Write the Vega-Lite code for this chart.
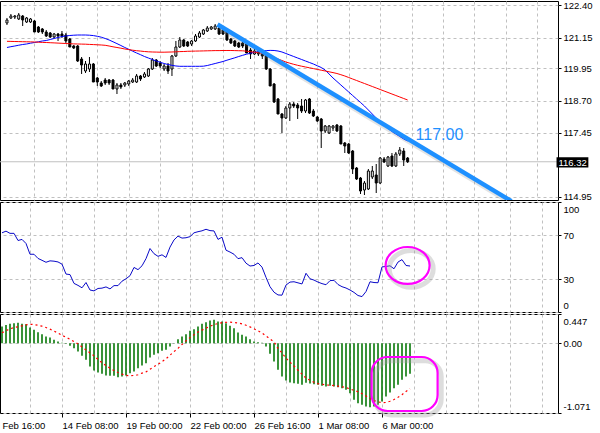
{
"$schema":"https://vega.github.io/schema/vega-lite/v6.json",
"padding":{"left":-1,"top":-1,"right":0,"bottom":0},
"background":"white",
"spacing":2,
"bounds":"flush",
"resolve":{"scale":{"x":"independent","y":"independent"}},
"config":{
 "view":{"stroke":"black","strokeWidth":1},
 "axis":{"gridColor":"#C0C0C0","gridDash":[3,3],"gridWidth":1,"labelFont":"Liberation Sans","labelFontSize":9.5,"labelColor":"black","tickColor":"black","domain":false,"tickCount":100,"labelOverlap":false},
 "text":{"font":"Liberation Sans"}
},
"data":{"values":[
{"i":0,"o":121.719,"h":121.914,"l":121.641,"c":121.836,"m1":120.766,"m2":121.007,"rsi":72,"hist":0.254,"sig":0.16},
{"i":1,"o":121.914,"h":122.069,"l":121.875,"c":121.991,"m1":120.797,"m2":121.003,"rsi":73.5,"hist":0.28,"sig":0.19},
{"i":2,"o":121.952,"h":122.03,"l":121.875,"c":121.991,"m1":120.824,"m2":120.999,"rsi":71.5,"hist":0.296,"sig":0.22},
{"i":3,"o":121.875,"h":122.108,"l":121.836,"c":122.03,"m1":120.855,"m2":120.995,"rsi":71.5,"hist":0.307,"sig":0.24},
{"i":4,"o":121.991,"h":122.03,"l":121.602,"c":121.836,"m1":120.882,"m2":120.991,"rsi":65,"hist":0.311,"sig":0.25},
{"i":5,"o":121.758,"h":121.952,"l":121.719,"c":121.914,"m1":120.902,"m2":120.988,"rsi":66,"hist":0.296,"sig":0.265},
{"i":6,"o":121.758,"h":121.914,"l":121.719,"c":121.875,"m1":120.933,"m2":120.984,"rsi":62.3,"hist":0.291,"sig":0.28},
{"i":7,"o":121.797,"h":121.836,"l":121.369,"c":121.369,"m1":120.96,"m2":120.98,"rsi":52.5,"hist":0.239,"sig":0.29},
{"i":8,"o":121.563,"h":121.602,"l":121.33,"c":121.369,"m1":120.988,"m2":120.972,"rsi":52.5,"hist":0.204,"sig":0.285},
{"i":9,"o":121.486,"h":121.524,"l":121.291,"c":121.369,"m1":121.019,"m2":120.964,"rsi":48.7,"hist":0.169,"sig":0.275},
{"i":10,"o":121.369,"h":121.447,"l":121.174,"c":121.213,"m1":121.038,"m2":120.96,"rsi":47,"hist":0.138,"sig":0.26},
{"i":11,"o":121.33,"h":121.369,"l":121.135,"c":121.174,"m1":121.077,"m2":120.952,"rsi":45.2,"hist":0.101,"sig":0.24},
{"i":12,"o":121.174,"h":121.33,"l":121.135,"c":121.291,"m1":121.116,"m2":120.945,"rsi":46.5,"hist":0.086,"sig":0.215},
{"i":13,"o":121.291,"h":121.33,"l":121.019,"c":121.213,"m1":121.155,"m2":120.937,"rsi":46.2,"hist":0.051,"sig":0.185},
{"i":14,"o":121.291,"h":121.408,"l":121.135,"c":121.213,"m1":121.194,"m2":120.929,"rsi":45.5,"hist":0.025,"sig":0.155},
{"i":15,"o":121.252,"h":121.33,"l":120.941,"c":121.019,"m1":121.213,"m2":120.921,"rsi":43.5,"hist":0.005,"sig":0.12},
{"i":16,"o":121.096,"h":121.135,"l":120.785,"c":120.785,"m1":121.233,"m2":120.914,"rsi":34.5,"hist":-0.011,"sig":0.09},
{"i":17,"o":120.824,"h":120.863,"l":120.707,"c":120.746,"m1":121.244,"m2":120.906,"rsi":34,"hist":-0.041,"sig":0.06},
{"i":18,"o":120.824,"h":120.863,"l":120.201,"c":120.24,"m1":121.252,"m2":120.902,"rsi":26,"hist":-0.077,"sig":0.025},
{"i":19,"o":120.318,"h":120.396,"l":119.735,"c":120.085,"m1":121.252,"m2":120.898,"rsi":24.2,"hist":-0.129,"sig":-0.01},
{"i":20,"o":119.851,"h":120.24,"l":119.773,"c":120.124,"m1":121.252,"m2":120.894,"rsi":22,"hist":-0.195,"sig":-0.06},
{"i":21,"o":119.929,"h":120.396,"l":119.812,"c":120.124,"m1":121.244,"m2":120.886,"rsi":26.8,"hist":-0.256,"sig":-0.105},
{"i":22,"o":120.124,"h":120.163,"l":119.423,"c":119.423,"m1":121.229,"m2":120.879,"rsi":20,"hist":-0.359,"sig":-0.15},
{"i":23,"o":119.579,"h":119.618,"l":119.268,"c":119.423,"m1":121.202,"m2":120.871,"rsi":19.2,"hist":-0.42,"sig":-0.195},
{"i":24,"o":119.384,"h":119.462,"l":119.229,"c":119.268,"m1":121.167,"m2":120.863,"rsi":21.4,"hist":-0.451,"sig":-0.25},
{"i":25,"o":119.501,"h":119.579,"l":119.307,"c":119.384,"m1":121.116,"m2":120.851,"rsi":21.7,"hist":-0.471,"sig":-0.3},
{"i":26,"o":119.501,"h":119.54,"l":119.307,"c":119.384,"m1":121.058,"m2":120.824,"rsi":22.8,"hist":-0.497,"sig":-0.345},
{"i":27,"o":119.501,"h":119.54,"l":119.151,"c":119.151,"m1":120.988,"m2":120.793,"rsi":21,"hist":-0.501,"sig":-0.385},
{"i":28,"o":119.151,"h":119.384,"l":118.956,"c":119.307,"m1":120.917,"m2":120.766,"rsi":24,"hist":-0.501,"sig":-0.42},
{"i":29,"o":119.307,"h":119.384,"l":119.151,"c":119.229,"m1":120.843,"m2":120.739,"rsi":24,"hist":-0.521,"sig":-0.45},
{"i":30,"o":119.307,"h":119.423,"l":119.229,"c":119.384,"m1":120.766,"m2":120.707,"rsi":28,"hist":-0.512,"sig":-0.475},
{"i":31,"o":119.345,"h":119.501,"l":119.268,"c":119.462,"m1":120.696,"m2":120.684,"rsi":30.2,"hist":-0.497,"sig":-0.495},
{"i":32,"o":119.423,"h":119.579,"l":119.384,"c":119.501,"m1":120.622,"m2":120.661,"rsi":33,"hist":-0.46,"sig":-0.5},
{"i":33,"o":119.423,"h":119.735,"l":119.384,"c":119.657,"m1":120.552,"m2":120.641,"rsi":40.5,"hist":-0.435,"sig":-0.495},
{"i":34,"o":119.657,"h":119.696,"l":119.462,"c":119.54,"m1":120.486,"m2":120.626,"rsi":38.5,"hist":-0.383,"sig":-0.485},
{"i":35,"o":119.618,"h":119.812,"l":119.579,"c":119.735,"m1":120.415,"m2":120.61,"rsi":42,"hist":-0.343,"sig":-0.46},
{"i":36,"o":119.657,"h":119.968,"l":119.618,"c":119.929,"m1":120.357,"m2":120.598,"rsi":48.5,"hist":-0.307,"sig":-0.44},
{"i":37,"o":119.929,"h":120.357,"l":119.89,"c":120.279,"m1":120.299,"m2":120.591,"rsi":57.7,"hist":-0.22,"sig":-0.4},
{"i":38,"o":120.279,"h":120.318,"l":120.007,"c":120.046,"m1":120.24,"m2":120.587,"rsi":53,"hist":-0.179,"sig":-0.36},
{"i":39,"o":120.163,"h":120.24,"l":119.968,"c":120.046,"m1":120.19,"m2":120.583,"rsi":50.6,"hist":-0.153,"sig":-0.325},
{"i":40,"o":119.929,"h":120.124,"l":119.851,"c":120.046,"m1":120.143,"m2":120.583,"rsi":52,"hist":-0.118,"sig":-0.285},
{"i":41,"o":120.046,"h":120.163,"l":119.735,"c":119.851,"m1":120.104,"m2":120.587,"rsi":49.6,"hist":-0.103,"sig":-0.24},
{"i":42,"o":119.929,"h":120.474,"l":119.657,"c":120.435,"m1":120.073,"m2":120.591,"rsi":59,"hist":-0.051,"sig":-0.185},
{"i":43,"o":120.435,"h":121.019,"l":120.396,"c":120.785,"m1":120.046,"m2":120.598,"rsi":65.5,"hist":-0.005,"sig":-0.13},
{"i":44,"o":120.785,"h":121.174,"l":120.746,"c":121.058,"m1":120.034,"m2":120.606,"rsi":69,"hist":0.061,"sig":-0.08},
{"i":45,"o":121.058,"h":121.096,"l":120.785,"c":120.824,"m1":120.034,"m2":120.61,"rsi":67.2,"hist":0.101,"sig":-0.02},
{"i":46,"o":120.98,"h":121.019,"l":120.785,"c":120.824,"m1":120.034,"m2":120.618,"rsi":67.5,"hist":0.138,"sig":0.035},
{"i":47,"o":120.902,"h":121.058,"l":120.824,"c":121.019,"m1":120.034,"m2":120.622,"rsi":68.5,"hist":0.189,"sig":0.085},
{"i":48,"o":121.019,"h":121.291,"l":120.98,"c":121.213,"m1":120.034,"m2":120.626,"rsi":72,"hist":0.215,"sig":0.13},
{"i":49,"o":121.174,"h":121.408,"l":121.135,"c":121.33,"m1":120.034,"m2":120.629,"rsi":73,"hist":0.254,"sig":0.17},
{"i":50,"o":121.291,"h":121.486,"l":121.252,"c":121.447,"m1":120.038,"m2":120.633,"rsi":73.8,"hist":0.296,"sig":0.2},
{"i":51,"o":121.408,"h":121.602,"l":121.369,"c":121.524,"m1":120.065,"m2":120.637,"rsi":75.2,"hist":0.322,"sig":0.23},
{"i":52,"o":121.486,"h":121.602,"l":121.447,"c":121.563,"m1":120.104,"m2":120.641,"rsi":74,"hist":0.347,"sig":0.26},
{"i":53,"o":121.486,"h":121.68,"l":121.447,"c":121.602,"m1":120.143,"m2":120.645,"rsi":73.7,"hist":0.357,"sig":0.285},
{"i":54,"o":121.524,"h":121.602,"l":121.252,"c":121.291,"m1":120.182,"m2":120.645,"rsi":66,"hist":0.331,"sig":0.3},
{"i":55,"o":121.447,"h":121.486,"l":121.252,"c":121.291,"m1":120.221,"m2":120.649,"rsi":68,"hist":0.331,"sig":0.315},
{"i":56,"o":121.408,"h":121.447,"l":121.019,"c":121.058,"m1":120.272,"m2":120.649,"rsi":56.2,"hist":0.307,"sig":0.32},
{"i":57,"o":121.096,"h":121.135,"l":120.902,"c":120.941,"m1":120.318,"m2":120.649,"rsi":54.5,"hist":0.265,"sig":0.322},
{"i":58,"o":121.019,"h":121.058,"l":120.785,"c":120.824,"m1":120.365,"m2":120.645,"rsi":52.5,"hist":0.23,"sig":0.318},
{"i":59,"o":120.941,"h":120.98,"l":120.746,"c":120.785,"m1":120.415,"m2":120.641,"rsi":48.5,"hist":0.163,"sig":0.31},
{"i":60,"o":120.941,"h":120.98,"l":120.746,"c":120.824,"m1":120.462,"m2":120.637,"rsi":49.4,"hist":0.127,"sig":0.296},
{"i":61,"o":120.902,"h":120.941,"l":120.552,"c":120.552,"m1":120.505,"m2":120.622,"rsi":44.4,"hist":0.101,"sig":0.275},
{"i":62,"o":120.668,"h":120.746,"l":120.318,"c":120.513,"m1":120.544,"m2":120.602,"rsi":41.8,"hist":0.061,"sig":0.25},
{"i":63,"o":120.513,"h":120.707,"l":120.474,"c":120.629,"m1":120.579,"m2":120.583,"rsi":42.3,"hist":0.025,"sig":0.22},
{"i":64,"o":120.591,"h":120.668,"l":120.435,"c":120.513,"m1":120.606,"m2":120.559,"rsi":44.6,"hist":0.015,"sig":0.19},
{"i":65,"o":120.513,"h":120.591,"l":120.318,"c":120.435,"m1":120.629,"m2":120.532,"rsi":40.8,"hist":0.005,"sig":0.155},
{"i":66,"o":120.513,"h":120.513,"l":119.89,"c":119.929,"m1":120.645,"m2":120.493,"rsi":31.5,"hist":-0.051,"sig":0.11},
{"i":67,"o":119.929,"h":119.968,"l":119.268,"c":119.268,"m1":120.653,"m2":120.435,"rsi":23,"hist":-0.164,"sig":0.065},
{"i":68,"o":119.345,"h":119.384,"l":118.606,"c":118.645,"m1":120.649,"m2":120.377,"rsi":18,"hist":-0.282,"sig":0.02},
{"i":69,"o":118.762,"h":118.801,"l":118.178,"c":118.178,"m1":120.629,"m2":120.318,"rsi":15.5,"hist":-0.409,"sig":-0.08},
{"i":70,"o":118.178,"h":118.217,"l":117.439,"c":118.023,"m1":120.591,"m2":120.26,"rsi":15.3,"hist":-0.512,"sig":-0.15},
{"i":71,"o":118.023,"h":118.489,"l":117.984,"c":118.412,"m1":120.532,"m2":120.201,"rsi":24.5,"hist":-0.573,"sig":-0.23},
{"i":72,"o":118.412,"h":118.645,"l":117.906,"c":118.567,"m1":120.474,"m2":120.155,"rsi":27.2,"hist":-0.604,"sig":-0.29},
{"i":73,"o":118.567,"h":118.645,"l":118.412,"c":118.489,"m1":120.415,"m2":120.112,"rsi":27.5,"hist":-0.613,"sig":-0.35},
{"i":74,"o":118.528,"h":118.606,"l":117.984,"c":118.412,"m1":120.357,"m2":120.073,"rsi":26.5,"hist":-0.624,"sig":-0.415},
{"i":75,"o":118.489,"h":118.762,"l":118.217,"c":118.295,"m1":120.299,"m2":120.038,"rsi":25.5,"hist":-0.636,"sig":-0.475},
{"i":76,"o":118.295,"h":118.762,"l":118.217,"c":118.723,"m1":120.24,"m2":120.007,"rsi":35.2,"hist":-0.609,"sig":-0.535},
{"i":77,"o":118.762,"h":118.801,"l":118.178,"c":118.217,"m1":120.182,"m2":119.976,"rsi":30.2,"hist":-0.62,"sig":-0.57},
{"i":78,"o":118.295,"h":118.373,"l":118.061,"c":118.1,"m1":120.124,"m2":119.945,"rsi":29,"hist":-0.63,"sig":-0.6},
{"i":79,"o":118.061,"h":118.1,"l":117.867,"c":117.906,"m1":120.054,"m2":119.913,"rsi":27.2,"hist":-0.639,"sig":-0.62},
{"i":80,"o":117.984,"h":118.023,"l":116.855,"c":117.517,"m1":119.988,"m2":119.882,"rsi":25.8,"hist":-0.655,"sig":-0.63},
{"i":81,"o":117.517,"h":117.75,"l":117.439,"c":117.711,"m1":119.89,"m2":119.851,"rsi":24.8,"hist":-0.665,"sig":-0.64},
{"i":82,"o":117.439,"h":117.75,"l":117.4,"c":117.711,"m1":119.735,"m2":119.82,"rsi":28.5,"hist":-0.655,"sig":-0.645},
{"i":83,"o":117.633,"h":117.75,"l":117.517,"c":117.711,"m1":119.579,"m2":119.789,"rsi":28.8,"hist":-0.665,"sig":-0.652},
{"i":84,"o":117.75,"h":117.789,"l":117.478,"c":117.517,"m1":119.443,"m2":119.754,"rsi":25,"hist":-0.675,"sig":-0.66},
{"i":85,"o":117.711,"h":117.75,"l":117.011,"c":117.011,"m1":119.307,"m2":119.707,"rsi":23,"hist":-0.69,"sig":-0.668},
{"i":86,"o":117.05,"h":117.089,"l":116.661,"c":116.933,"m1":119.17,"m2":119.657,"rsi":21.8,"hist":-0.716,"sig":-0.683},
{"i":87,"o":117.011,"h":117.05,"l":116.622,"c":116.661,"m1":119.034,"m2":119.598,"rsi":20,"hist":-0.767,"sig":-0.7},
{"i":88,"o":116.738,"h":116.777,"l":115.844,"c":116.038,"m1":118.898,"m2":119.54,"rsi":17.8,"hist":-0.869,"sig":-0.725},
{"i":89,"o":116.077,"h":116.116,"l":115.61,"c":115.649,"m1":118.762,"m2":119.482,"rsi":15,"hist":-0.92,"sig":-0.745},
{"i":90,"o":115.688,"h":115.727,"l":115.065,"c":115.182,"m1":118.626,"m2":119.423,"rsi":14,"hist":-0.946,"sig":-0.775},
{"i":91,"o":115.221,"h":115.571,"l":115.026,"c":115.493,"m1":118.489,"m2":119.365,"rsi":18.6,"hist":-0.972,"sig":-0.81},
{"i":92,"o":115.26,"h":116.038,"l":115.221,"c":115.96,"m1":118.334,"m2":119.307,"rsi":27.5,"hist":-0.981,"sig":-0.85},
{"i":93,"o":115.727,"h":116.155,"l":115.649,"c":115.96,"m1":118.178,"m2":119.248,"rsi":26.8,"hist":-0.972,"sig":-0.88},
{"i":94,"o":115.805,"h":116.233,"l":115.104,"c":115.493,"m1":118.023,"m2":119.19,"rsi":26.6,"hist":-0.946,"sig":-0.9},
{"i":95,"o":115.493,"h":116.505,"l":115.454,"c":116.466,"m1":117.867,"m2":119.131,"rsi":41,"hist":-0.895,"sig":-0.913},
{"i":96,"o":116.427,"h":116.505,"l":116.272,"c":116.31,"m1":117.731,"m2":119.073,"rsi":41.4,"hist":-0.818,"sig":-0.91},
{"i":97,"o":116.155,"h":116.544,"l":116.116,"c":116.505,"m1":117.614,"m2":119.015,"rsi":42,"hist":-0.757,"sig":-0.89},
{"i":98,"o":116.544,"h":116.661,"l":116.116,"c":116.155,"m1":117.497,"m2":118.956,"rsi":39.3,"hist":-0.69,"sig":-0.865},
{"i":99,"o":116.155,"h":116.7,"l":116.116,"c":116.622,"m1":117.4,"m2":118.898,"rsi":45.4,"hist":-0.639,"sig":-0.83},
{"i":100,"o":116.622,"h":116.894,"l":116.544,"c":116.777,"m1":117.303,"m2":118.84,"rsi":47.6,"hist":-0.563,"sig":-0.79},
{"i":101,"o":116.738,"h":116.855,"l":116.155,"c":116.388,"m1":117.205,"m2":118.781,"rsi":42.3,"hist":-0.512,"sig":-0.74},
{"i":102,"o":116.466,"h":116.505,"l":116.272,"c":116.32,"m1":117.128,"m2":118.723,"rsi":41.8,"hist":-0.471,"sig":-0.7}
]},
"vconcat":[
{
 "width":558,"height":199,
 "layer":[
  {"data":{"values":[{"bid":116.32}]},
   "mark":{"type":"rule","color":"#C0C0C0","strokeWidth":1},
   "encoding":{"y":{"field":"bid","type":"quantitative","title":null,
     "scale":{"domain":[114.832,122.575],"nice":false,"zero":false},
     "axis":{"orient":"right","values":[114.95,117.45,118.7,119.95,121.15,122.4],"format":".2f","grid":true,"tickSize":3,"labelPadding":2,"tickCount":100}}}},
  {"mark":{"type":"rule","color":"black","strokeWidth":1},
   "encoding":{
    "x":{"field":"i","type":"quantitative","title":null,"scale":{"domain":[-0.5,139],"nice":false,"zero":false},
      "axis":{"values":[7,15,23,31,39,47,55,63,71,79,87,95,103,111,119,127,135],"grid":true,"labels":false,"ticks":false,"tickCount":100}},
    "y":{"field":"l","type":"quantitative","title":null},"y2":{"field":"h"}}},
  {"mark":{"type":"bar","width":2,"stroke":"black","strokeWidth":1},
   "encoding":{
    "x":{"field":"i","type":"quantitative","title":null},
    "y":{"field":"o","type":"quantitative","title":null},"y2":{"field":"c"},
    "fill":{"condition":{"test":"datum.c >= datum.o","value":"white"},"value":"black"}}},
  {"mark":{"type":"line","color":"#0000FF","strokeWidth":1},
   "encoding":{"x":{"field":"i","type":"quantitative","title":null},"y":{"field":"m1","type":"quantitative","title":null}}},
  {"mark":{"type":"line","color":"#FF0000","strokeWidth":1},
   "encoding":{"x":{"field":"i","type":"quantitative","title":null},"y":{"field":"m2","type":"quantitative","title":null}}},
  {"data":{"values":[{}]},
   "mark":{"type":"rule","color":"#808080","strokeWidth":6,"opacity":0.22,"clip":true},
   "encoding":{"x":{"datum":54.2},"y":{"datum":121.55},"x2":{"datum":129.0},"y2":{"datum":114.68}}},
  {"data":{"values":[{"i1":53.6,"p1":121.66,"i2":128.4,"p2":114.79}]},
   "mark":{"type":"rule","color":"#1E90FF","strokeWidth":4.5,"clip":true},
   "encoding":{"x":{"field":"i1","type":"quantitative"},"y":{"field":"p1","type":"quantitative"},"x2":{"field":"i2"},"y2":{"field":"p2"}}},
  {"data":{"values":[{"i":110.1,"p":117.36,"label":"117.00"}]},
   "mark":{"type":"text","fontSize":16,"color":"#1E90FF","align":"center","baseline":"middle"},
   "encoding":{"x":{"field":"i","type":"quantitative"},"y":{"field":"p","type":"quantitative"},"text":{"field":"label"}}},
  {"data":{"values":[{"bid":116.32}]},
   "mark":{"type":"rect","color":"black"},
   "encoding":{"x":{"datum":139.9},"x2":{"datum":148},"y":{"datum":116.5},"y2":{"datum":116.1}}},
  {"data":{"values":[{"bid":116.32}]},
   "mark":{"type":"text","fontSize":9.5,"color":"white","align":"center","baseline":"middle","dy":1},
   "encoding":{"x":{"datum":144},"y":{"field":"bid","type":"quantitative"},"text":{"field":"bid","format":".2f"}}}
 ]
},
{
 "width":558,"height":110,
 "layer":[
  {"mark":{"type":"line","color":"#0A0AC8","strokeWidth":1},
   "encoding":{
    "x":{"field":"i","type":"quantitative","title":null,"scale":{"domain":[-0.5,139],"nice":false,"zero":false},
      "axis":{"values":[7,15,23,31,39,47,55,63,71,79,87,95,103,111,119,127,135],"grid":true,"labels":false,"ticks":false,"tickCount":100}},
    "y":{"field":"rsi","type":"quantitative","title":null,"scale":{"domain":[0,100],"nice":false},
      "axis":{"orient":"right","values":[0,30,70,100],"format":"d","grid":true,"tickSize":3,"labelPadding":2,"labelFlush":true,"labelFlushOffset":-2,"tickCount":100}}}},
  {"data":{"values":[{}]},
   "mark":{"type":"point","shape":"M -1 0 A 1 0.84 0 1 1 1 0 A 1 0.84 0 1 1 -1 0 Z","size":1936,"filled":false,"stroke":"#A0A0A0","strokeWidth":5,"opacity":0.35},
   "encoding":{"x":{"datum":102.3},"y":{"datum":39.2}}},
  {"data":{"values":[{}]},
   "mark":{"type":"point","shape":"M -1 0 A 1 0.84 0 1 1 1 0 A 1 0.84 0 1 1 -1 0 Z","size":1936,"filled":false,"stroke":"#FF00FF","strokeWidth":2.2,"opacity":1},
   "encoding":{"x":{"datum":101.4},"y":{"datum":42.3}}}
 ]
},
{
 "width":558,"height":99,
 "layer":[
  {"mark":{"type":"rule","color":"#087808","strokeWidth":1.6},
   "encoding":{
    "x":{"field":"i","type":"quantitative","title":null,"scale":{"domain":[-0.5,139],"nice":false,"zero":false},
      "axis":{"values":[0,7,15,23,31,39,47,55,63,71,79,87,95,103,111,119,127,135],"grid":true,"tickCount":100,
        "gridOpacity":{"condition":{"test":"datum.value == 0","value":0},"value":1},
        "ticks":true,"tickSize":4,
        "tickOpacity":{"condition":{"test":"datum.value % 16 == 15 && datum.value <= 95","value":1},"value":0},
        "labelExpr":"datum.value == 0 ? 'Feb 16:00' : datum.value == 15 ? '14 Feb 08:00' : datum.value == 31 ? '19 Feb 00:00' : datum.value == 47 ? '22 Feb 00:00' : datum.value == 63 ? '26 Feb 16:00' : datum.value == 79 ? '1 Mar 08:00' : datum.value == 95 ? '6 Mar 00:00' : ''",
        "labelAlign":"left","labelBaseline":"top","labelPadding":3,"labelFlush":false}},
    "y":{"field":"hist","type":"quantitative","title":null,"scale":{"domain":[-1.071,0.447],"nice":false,"zero":false},
      "axis":{"orient":"right","values":[-1.071,0,0.447],"grid":true,"tickSize":3,"labelPadding":2,"labelFlush":true,"labelFlushOffset":-2,"tickCount":100,
        "labelExpr":"datum.value == 0 ? '0.00' : replace(format(datum.value, '.3f'), '\u2212', '-')"}},
    "y2":{"datum":0}}},
  {"mark":{"type":"line","color":"#FF0000","strokeWidth":1.2,"strokeDash":[2,3]},
   "encoding":{"x":{"field":"i","type":"quantitative","title":null},"y":{"field":"sig","type":"quantitative","title":null}}},
  {"data":{"values":[{}]},
   "mark":{"type":"rect","cornerRadius":16,"fill":"transparent","stroke":"#A0A0A0","strokeWidth":5,"opacity":0.35},
   "encoding":{"x":{"datum":93.3},"x2":{"datum":109.8},"y":{"datum":-0.27},"y2":{"datum":-1.1}}},
  {"data":{"values":[{}]},
   "mark":{"type":"rect","cornerRadius":16,"fill":"transparent","stroke":"#FF00FF","strokeWidth":2.2},
   "encoding":{"x":{"datum":92.4},"x2":{"datum":108.9},"y":{"datum":-0.212},"y2":{"datum":-1.04}}}
 ]
}
]
}
